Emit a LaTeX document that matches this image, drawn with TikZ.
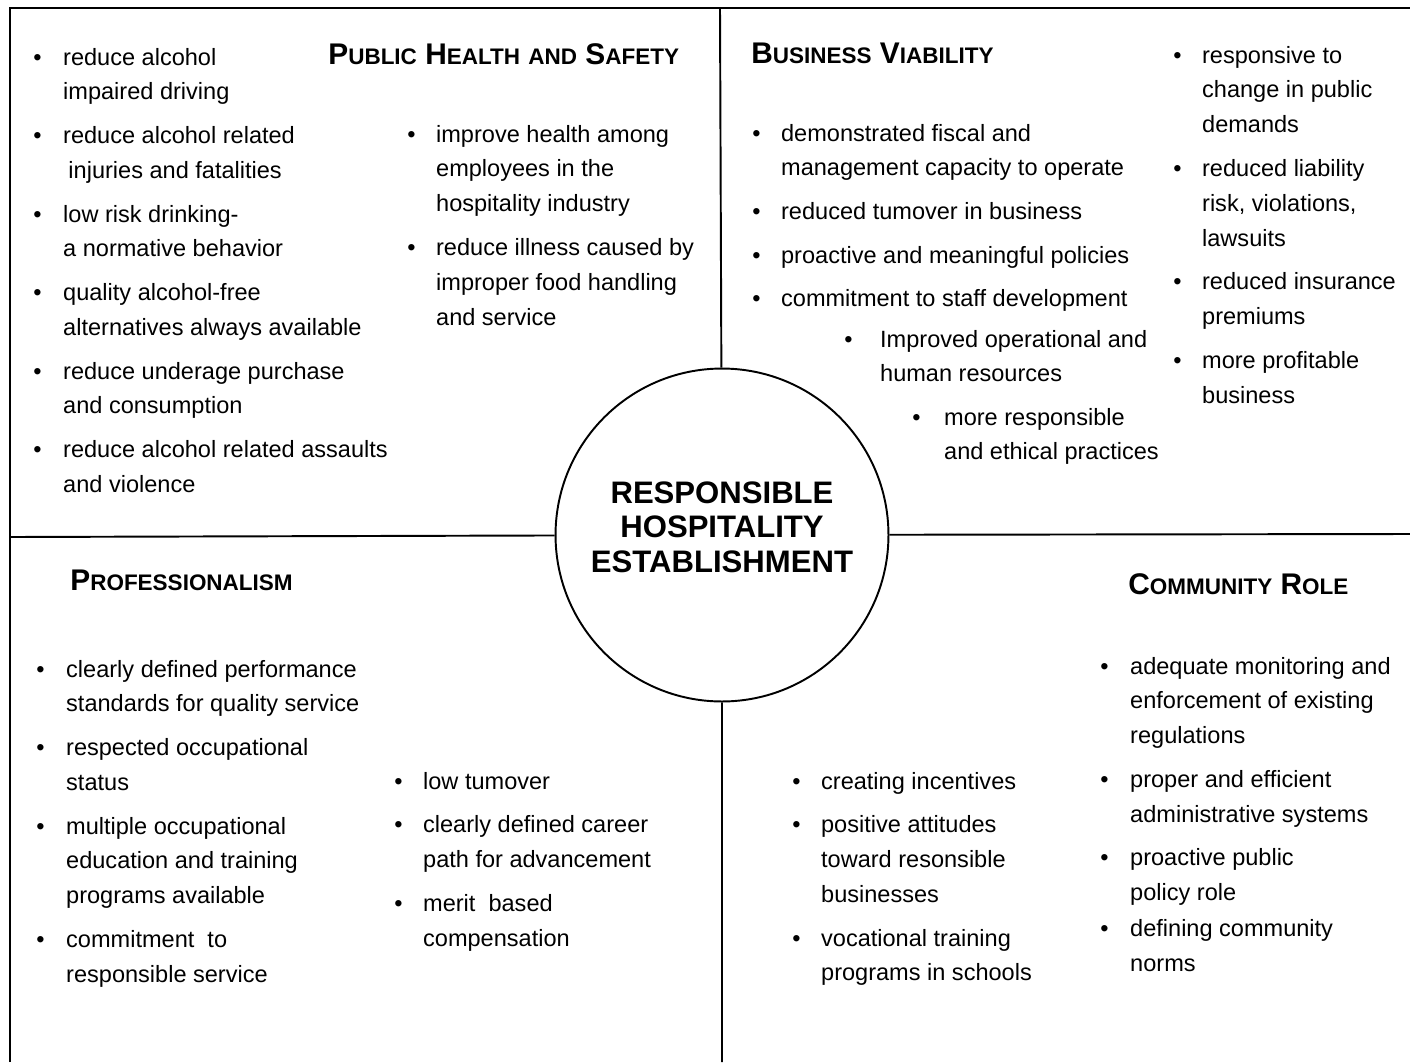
\documentclass[tikz,border=0pt]{standalone}
\usepackage{fontspec}
\setmainfont{Liberation Sans}
\usetikzlibrary{positioning}

\newlength\bulw
\newcommand\bul{\makebox[\bulw][l]{\textbullet}}
\newcommand\capw[2]{#1{\fontsize{12.8}{20}\selectfont #2}}
\newcommand\nexti{\\[5pt]}

\begin{document}
\begin{tikzpicture}[x=0.02cm,y=-0.02cm,
  item node/.style={anchor=base west,inner sep=0pt,font=\fontsize{13.4}{19.84}\selectfont},
  head node/.style={anchor=base west,inner sep=0pt,font=\fontsize{17}{20}\selectfont\bfseries},
  hub node/.style={circle,draw,line width=1.1pt,minimum size=6.66cm,inner sep=0pt},
  frame line/.style={line width=1.1pt}]
  \useasboundingbox (0,0) rectangle (1410,1062);

  % centre circle
  \node [hub node] (hub) at (722,535) {};
  \node [anchor=base,inner sep=0pt,font=\fontsize{17.7}{19.84}\selectfont\bfseries] (hub text) at (722,503)
    {\begin{tabular}[t]{@{}c@{}}RESPONSIBLE\\HOSPITALITY\\ESTABLISHMENT\end{tabular}};

  % frame and quadrant lines
  \coordinate (top left) at (10,8);
  \coordinate (top right) at (1410,8);
  \coordinate (bottom left) at (10,1062);
  \coordinate (mid left) at (10,537);
  \coordinate (mid right) at (1410,534);
  \coordinate (top mid) at (720,8);
  \coordinate (bottom mid) at (722,1062);
  \draw [frame line] (bottom left) -- (top left) -- (top right);
  \draw [frame line] (mid left) -- (hub) (hub) -- (mid right);
  \draw [frame line] (top mid) -- (hub) (hub) -- (bottom mid);

  % headings
  \node [head node] (health) at (328,64) {\capw{P}{UBLIC} \capw{H}{EALTH} {\fontsize{12.8}{20}\selectfont AND} \capw{S}{AFETY}};
  \node [head node] (business) at (751,63) {\capw{B}{USINESS} \capw{V}{IABILITY}};
  \node [head node] (profession) at (70,590) {\capw{P}{ROFESSIONALISM}};
  \node [head node] (community) at (1128,594) {\capw{C}{OMMUNITY} \capw{R}{OLE}};

  % public health and safety
  \node [item node] (health a) at (33,65) {\setlength\bulw{17pt}\begin{tabular}[t]{@{}l@{}l@{}}
    \bul & reduce alcohol\\ & impaired driving\nexti
    \bul & reduce alcohol related\\ & \hspace{3pt}injuries and fatalities\nexti
    \bul & low risk drinking-\\ & a normative behavior\nexti
    \bul & quality alcohol-free\\ & alternatives always available\nexti
    \bul & reduce underage purchase\\ & and consumption\nexti
    \bul & reduce alcohol related assaults\\ & and violence
  \end{tabular}};
  \node [item node] (health b) at (407,142) {\setlength\bulw{16.4pt}\begin{tabular}[t]{@{}l@{}l@{}}
    \bul & improve health among\\ & employees in the\\ & hospitality industry\nexti
    \bul & reduce illness caused by\\ & improper food handling\\ & and service
  \end{tabular}};

  % business viability
  \node [item node] (business a) at (752,141) {\setlength\bulw{16.4pt}\begin{tabular}[t]{@{}l@{}l@{}}
    \bul & demonstrated fiscal and\\ & management capacity to operate\nexti
    \bul & reduced tumover in business\nexti
    \bul & proactive and meaningful policies\nexti
    \bul & commitment to staff development
  \end{tabular}};
  \node [item node] (business b) at (844,347) {\setlength\bulw{20.4pt}\begin{tabular}[t]{@{}l@{}l@{}}
    \bul & Improved operational and\\ & human resources
  \end{tabular}};
  \node [item node] (business c) at (912,425) {\setlength\bulw{18.1pt}\begin{tabular}[t]{@{}l@{}l@{}}
    \bul & more responsible\\ & and ethical practices
  \end{tabular}};
  \node [item node] (business d) at (1173,63) {\setlength\bulw{16.4pt}\begin{tabular}[t]{@{}l@{}l@{}}
    \bul & responsive to\\ & change in public\\ & demands\nexti
    \bul & reduced liability\\ & risk, violations,\\ & lawsuits\nexti
    \bul & reduced insurance\\ & premiums\nexti
    \bul & more profitable\\ & business
  \end{tabular}};

  % professionalism
  \node [item node] (profession a) at (36,677) {\setlength\bulw{17pt}\begin{tabular}[t]{@{}l@{}l@{}}
    \bul & clearly defined performance\\ & standards for quality service\nexti
    \bul & respected occupational\\ & status\nexti
    \bul & multiple occupational\\ & education and training\\ & programs available\nexti
    \bul & commitment\ \ to\\ & responsible service
  \end{tabular}};
  \node [item node] (profession b) at (394,789) {\setlength\bulw{16.4pt}\begin{tabular}[t]{@{}l@{}l@{}}
    \bul & low tumover\nexti
    \bul & clearly defined career\\ & path for advancement\nexti
    \bul & merit\ \ based\\ & compensation
  \end{tabular}};

  % community role
  \node [item node] (community a) at (792,789) {\setlength\bulw{16.4pt}\begin{tabular}[t]{@{}l@{}l@{}}
    \bul & creating incentives\nexti
    \bul & positive attitudes\\ & toward resonsible\\ & businesses\nexti
    \bul & vocational training\\ & programs in schools
  \end{tabular}};
  \node [item node] (community b) at (1100,674) {\setlength\bulw{17pt}\begin{tabular}[t]{@{}l@{}l@{}}
    \bul & adequate monitoring and\\ & enforcement of existing\\ & regulations\nexti
    \bul & proper and efficient\\ & administrative systems\nexti
    \bul & proactive public\\ & policy role\\[0.6pt]
    \bul & defining community\\ & norms
  \end{tabular}};
\end{tikzpicture}
\end{document}
